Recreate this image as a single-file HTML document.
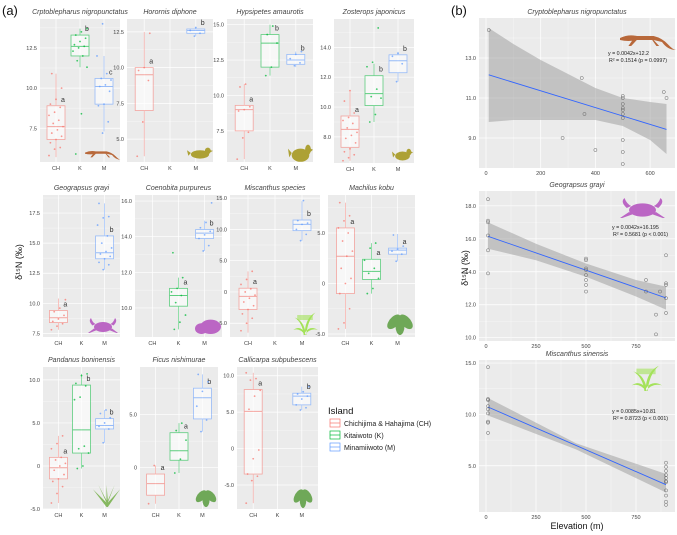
<!DOCTYPE html>
<html><head><meta charset="utf-8"><style>
html,body{margin:0;padding:0;background:#fff;}
svg{display:block;font-family:"Liberation Sans",Arial,sans-serif;}
</style></head><body>
<svg id="fig" width="677" height="535" viewBox="0 0 677 535" xmlns="http://www.w3.org/2000/svg">
<text x="2" y="15" font-size="13" fill="#111">(a)</text>
<text x="451" y="15" font-size="13" fill="#111">(b)</text>
<text transform="translate(22,262) rotate(-90)" font-size="9" text-anchor="middle" fill="#111">δ¹⁵N (‰)</text>
<text transform="translate(468,268) rotate(-90)" font-size="9" text-anchor="middle" fill="#111">δ¹⁵N (‰)</text>
<text x="577" y="529" font-size="9" text-anchor="middle" fill="#111">Elevation (m)</text>
<g>
<text x="328" y="414" font-size="9.5" fill="#111">Island</text>
<g><rect x="330" y="419" width="10" height="8" fill="#fff" stroke="#F8766D" stroke-width="0.7"/><line x1="330" y1="423" x2="340" y2="423" stroke="#F8766D" stroke-width="0.7"/><text x="344" y="426" font-size="7" fill="#222">Chichijima &amp; Hahajima (CH)</text></g>
<g><rect x="330" y="431" width="10" height="8" fill="#fff" stroke="#00BA38" stroke-width="0.7"/><line x1="330" y1="435" x2="340" y2="435" stroke="#00BA38" stroke-width="0.7"/><text x="344" y="438" font-size="7" fill="#222">Kitaiwoto (K)</text></g>
<g><rect x="330" y="443" width="10" height="8" fill="#fff" stroke="#619CFF" stroke-width="0.7"/><line x1="330" y1="447" x2="340" y2="447" stroke="#619CFF" stroke-width="0.7"/><text x="344" y="450" font-size="7" fill="#222">Minamiiwoto (M)</text></g>
</g>
</svg>
<script>
const groups = ["CH","K","M"];
const cryptoBoxes = [[6.8,7.6,8.9,5.7,10.9],[12.0,12.6,13.3,11.3,13.7],[9.0,10.1,10.6,7.3,12.0]];
const cryptoPts = [[5.8,6.2,6.3,6.6,6.8,7.0,7.2,7.4,7.6,7.8,8.0,8.3,8.5,8.8,9.0,9.3,10.0,10.9],[5.9,8.4,11.3,11.7,12.0,12.3,12.5,12.6,12.7,12.9,13.1,13.3,13.5,13.7],[7.2,7.9,8.9,9.0,9.8,10.1,10.2,10.5,10.6,10.9,12.0,14.0]];
const cryptoLetters = ["a","b","c"];
const horornisBoxes = [[7.0,9.5,10.0,3.8,12.5],null,[12.4,12.6,12.7,12.2,12.8]];
const horornisPts = [[3.8,6.2,9.1,9.8,10.0,12.4],[],[12.2,12.4,12.6,12.8]];
const horornisLetters = ["a","","b"];
const hypsiBoxes = [[7.5,9.0,9.3,5.5,10.8],[12.0,13.7,14.3,11.4,15.0],[12.2,12.5,12.9,12.0,13.1]];
const hypsiPts = [[5.5,7.0,7.4,8.9,9.0,9.2,10.6,10.8],[11.4,12.0,13.7,14.3,14.9],[12.1,12.3,12.6,12.9,13.1]];
const hypsiLetters = ["a","b","b"];
const zostBoxes = [[7.3,8.5,9.4,6.4,11.1],[10.1,10.9,12.1,9.0,12.9],[12.3,13.1,13.5,11.7,13.7]];
const zostPts = [[6.4,6.6,6.8,7.0,7.2,7.6,7.9,8.1,8.3,8.6,8.9,9.1,9.3,9.6,10.4,11.1],[9.0,9.5,10.6,10.7,11.2,12.7,13.0,15.3],[11.7,12.9,13.4,13.6]];
const zostLetters = ["a","b","b"];
const geoBoxes = [[8.4,8.8,9.4,7.8,10.4],null,[13.7,14.2,15.6,12.8,18.3]];
const geoPts = [[7.8,8.1,8.3,8.5,8.7,9.0,9.3,9.6,10.3],[],[12.8,13.2,13.4,13.7,13.9,14.1,14.3,14.6,15.0,15.6,16.5,17.1,17.2,18.3]];
const geoLetters = ["a","","b"];
const coenoBoxes = [null,[10.1,10.7,11.1,8.8,11.7],[13.9,14.2,14.4,13.2,14.9]];
const coenoPts = [[],[8.8,9.2,9.6,10.3,10.7,10.9,11.1,11.7,13.1],[13.2,13.5,13.9,14.1,14.3,14.5,14.8,15.9]];
const coenoLetters = ["","a","b"];
const miscBoxes = [[-2.8,-0.7,0.6,-6.5,3.3],null,[9.8,10.8,11.5,8.2,14.5]];
const miscPts = [[-6.2,-5.0,-4.2,-3.5,-2.8,-2.2,-1.6,-1.0,-0.5,0,0.5,1.2,2.0,3.3],[],[8.2,9.2,10.0,10.8,11.0,11.4,14.6]];
const miscLetters = ["a","","b"];
const machBoxes = [[-1.0,2.7,5.5,-4.5,8.0],[0.4,1.2,2.4,-1.0,4.0],[2.9,3.3,3.5,2.2,4.9]];
const machPts = [[-4.5,-3.9,-2.5,-1.0,0,0.5,1.5,2.7,3.2,4.2,5.0,5.5,6.2,6.7,8.0],[-1.0,-0.5,0.5,1.0,1.5,2.3,3.5,4.0],[2.2,2.9,3.2,3.4,3.7,4.8]];
const machLetters = ["a","a","a"];
const pandBoxes = [[-1.5,-0.2,1.0,-4.3,3.5],[1.5,4.2,9.4,-0.3,10.7],[4.3,4.7,5.5,2.7,6.5]];
const pandPts = [[-4.3,-3.2,-2.4,-1.8,-1.5,-1.0,-0.5,0,0.3,0.7,1.0,2.0,2.6,3.5],[-0.3,0,1.5,2.0,2.3,7.7,8.0,9.3,9.6,10.5,10.7],[2.7,4.3,4.6,5.0,5.6,6.1,6.5]];
const pandLetters = ["a","b","b"];
const ficusBoxes = [[-2.6,-1.5,-0.6,-3.4,0.2],[0.7,1.6,3.3,-0.5,4.2],[4.6,6.6,7.5,3.4,8.8]];
const ficusPts = [[-3.4,0.2],[-0.5,0.8,2.6,3.5,4.2],[3.4,4.5,5.8,7.2,8.1,8.8]];
const ficusLetters = ["a","a","b"];
const calliBoxes = [[-3.5,5.1,8.1,-7.5,10.4],null,[6.0,7.2,7.6,5.3,8.5]];
const calliPts = [[-7.5,-4.4,-3.8,-3.5,-1.4,-0.2,5.4,7.2,8.0,9.4,9.6,10.4],[],[5.3,5.6,6.0,6.8,7.2,7.5,7.8,8.5]];
const calliLetters = ["a","","b"];

const cryptoElev = [10,280,350,360,400,500,500,500,500,500,500,500,500,500,500,650,660];
const cryptoN15 = [14.4,9.0,12.0,10.2,8.4,11.1,11.0,10.7,10.5,10.4,10.2,10.0,8.9,8.3,7.7,11.3,11.0];
const cryptoFit = [12.2,-0.0042];
const cryptoBandX = [10,100,200,300,400,500,600,660];
const cryptoBandHi = [14.5,13.7,12.9,12.2,11.5,11.0,10.8,10.7];
const cryptoBandLo = [9.8,9.9,9.9,9.9,9.9,9.6,8.9,8.2];
const geoElev = [10,10,10,10,10,10,500,500,500,500,500,500,500,500,800,800,870,850,850,900,900,900,900,900];
const geoN15 = [18.4,17.1,17.0,16.2,15.3,13.9,14.8,14.7,14.2,14.1,13.8,13.5,13.2,12.8,13.5,12.8,12.8,11.4,10.2,15.0,13.3,13.2,12.4,11.5];
const geoFit = [16.195,-0.0042];
const geoBandX = [10,250,500,750,900];
const geoBandHi = [17.0,15.7,14.5,13.5,13.1];
const geoBandLo = [15.4,14.7,13.7,12.5,11.7];
const miscElev = [10,10,10,10,10,10,10,10,10,900,900,900,900,900,900,900,900,900,900,900];
const miscN15 = [14.6,11.5,11.4,10.8,10.5,10.1,9.3,9.2,8.2,5.3,4.9,4.5,4.1,3.8,3.5,3.4,2.6,2.1,1.5,1.2];
const miscFit = [10.81,-0.0085];
const miscBandX = [10,450,900];
const miscBandHi = [11.6,7.2,4.2];
const miscBandLo = [9.9,6.6,2.4];

const colors = {CH:"#F8766D",K:"#00BA38",M:"#619CFF"};
const NS = "http://www.w3.org/2000/svg";
const svg = document.getElementById('fig');
function el(tag, attrs, parent){ const e=document.createElementNS(NS,tag); for(const k in attrs) e.setAttribute(k,attrs[k]); (parent||svg).appendChild(e); return e; }

function boxPanel(cfg){
  const g = el('g',{});
  
  
  const {x0,x1,y0,y1,vmin,vmax} = cfg;
  const Y = v => y1 - (v - vmin)/(vmax - vmin)*(y1 - y0);
  const X = i => x0 + (x1 - x0)*(0.2 + 0.3*i);
  el('rect',{x:x0,y:y0,width:x1-x0,height:y1-y0,fill:'#EBEBEB'},g);
  const step = cfg.ticks[1]-cfg.ticks[0];
  cfg.ticks.forEach(t=>{
    const m = Y(t+step/2);
    if(m>y0 && m<y1) el('line',{x1:x0,x2:x1,y1:m,y2:m,stroke:'#fff','stroke-width':0.3},g);
    const yy=Y(t);
    el('line',{x1:x0,x2:x1,y1:yy,y2:yy,stroke:'#fff','stroke-width':0.7},g);
    const tl = el('text',{x:x0-3,y:yy+2,'font-size':5.5,'text-anchor':'end',fill:'#444'},g);
    tl.textContent = t===0 ? '0' : t.toFixed(1);
    
    
  });
  groups.forEach((gname,i)=>{
    const xx = X(i);
    el('line',{x1:xx,x2:xx,y1:y0,y2:y1,stroke:'#fff','stroke-width':0.7},g);
    const xl = el('text',{x:xx,y:y1+8,'font-size':5.5,'text-anchor':'middle',fill:'#444'},g);
    xl.textContent = gname;
    
    
  });
  const t = el('text',{x:(x0+x1)/2,y:y0-5,'font-size':7,'font-style':'italic','text-anchor':'middle',fill:'#444'},g);
  t.textContent = cfg.title;
  
  
  const bw = 18;
  groups.forEach((gname,i)=>{
    const b = cfg.boxes[i]; const c = colors[gname]; const xx = X(i);
    if(b){
      const bg = el('g',{opacity:0.6},g);
      
      
      el('line',{x1:xx,x2:xx,y1:Y(b[3]),y2:Y(b[0]),stroke:c,'stroke-width':0.7},bg);
      el('line',{x1:xx,x2:xx,y1:Y(b[2]),y2:Y(b[4]),stroke:c,'stroke-width':0.7},bg);
      el('rect',{x:xx-bw/2,y:Y(b[2]),width:bw,height:Y(b[0])-Y(b[2]),fill:'#fff',stroke:c,'stroke-width':0.8},bg);
      el('line',{x1:xx-bw/2,x2:xx+bw/2,y1:Y(b[1]),y2:Y(b[1]),stroke:c,'stroke-width':1},bg);
      if(cfg.letters[i]){
        const lt = el('text',{x:xx+5,y:Y(b[2])-4,'font-size':7,fill:'#333'},g);
        lt.textContent = cfg.letters[i];
        
        
      }
    }
    cfg.pts[i].forEach((v,k)=>{
      const jx = (((k*37+i*13)%11)-5)*1.4;
      const p = el('circle',{cx:xx+jx,cy:Y(v),r:0.9,fill:c,opacity:0.75},g);
      
      
    });
  });
  return g;
}

boxPanel({name:'panel-cryptoblepharus',title:'Crptoblepharus nigropunctatus',x0:40,x1:120,y0:19,y1:162,vmin:5.4,vmax:14.3,ticks:[7.5,10,12.5],boxes:cryptoBoxes,pts:cryptoPts,letters:cryptoLetters});
boxPanel({name:'panel-horornis',title:'Horornis diphone',x0:127,x1:213,y0:19,y1:162,vmin:3.4,vmax:13.4,ticks:[5,7.5,10,12.5],boxes:horornisBoxes,pts:horornisPts,letters:horornisLetters});
boxPanel({name:'panel-hypsipetes',title:'Hypsipetes amaurotis',x0:227,x1:313,y0:19,y1:162,vmin:5.3,vmax:15.4,ticks:[7.5,10,12.5,15],boxes:hypsiBoxes,pts:hypsiPts,letters:hypsiLetters});
boxPanel({name:'panel-zosterops',title:'Zosterops japonicus',x0:334,x1:414,y0:19,y1:163,vmin:6.25,vmax:15.9,ticks:[8,10,12,14],boxes:zostBoxes,pts:zostPts,letters:zostLetters});
boxPanel({name:'panel-geograpsus',title:'Geograpsus grayi',x0:43,x1:120,y0:195,y1:337,vmin:7.2,vmax:19.0,ticks:[7.5,10,12.5,15,17.5],boxes:geoBoxes,pts:geoPts,letters:geoLetters});
boxPanel({name:'panel-coenobita',title:'Coenobita purpureus',x0:135,x1:222,y0:195,y1:337,vmin:8.37,vmax:16.34,ticks:[10,12,14,16],boxes:coenoBoxes,pts:coenoPts,letters:coenoLetters});
boxPanel({name:'panel-miscanthus',title:'Miscanthus species',x0:230,x1:320,y0:195,y1:337,vmin:-7.2,vmax:15.5,ticks:[-5,0,5,10,15],boxes:miscBoxes,pts:miscPts,letters:miscLetters});
boxPanel({name:'panel-machilus',title:'Machilus kobu',x0:328,x1:415,y0:195,y1:337,vmin:-5.3,vmax:8.76,ticks:[-5,0,5],boxes:machBoxes,pts:machPts,letters:machLetters});
boxPanel({name:'panel-pandanus',title:'Pandanus boninensis',x0:43,x1:120,y0:367,y1:509,vmin:-5,vmax:11.5,ticks:[-5,0,5,10],boxes:pandBoxes,pts:pandPts,letters:pandLetters});
boxPanel({name:'panel-ficus',title:'Ficus nishimurae',x0:140,x1:218,y0:367,y1:509,vmin:-3.9,vmax:9.5,ticks:[0,5],boxes:ficusBoxes,pts:ficusPts,letters:ficusLetters});
boxPanel({name:'panel-callicarpa',title:'Callicarpa subpubescens',x0:237,x1:318,y0:367,y1:509,vmin:-8.3,vmax:11.2,ticks:[-5,0,5,10],boxes:calliBoxes,pts:calliPts,letters:calliLetters});

function regPanel(cfg){
  const g = el('g',{});
  
  
  const {x0,x1,y0,y1,xmin,xmax,vmin,vmax} = cfg;
  const X = v => x0 + (v - xmin)/(xmax - xmin)*(x1 - x0);
  const Y = v => y1 - (v - vmin)/(vmax - vmin)*(y1 - y0);
  el('rect',{x:x0,y:y0,width:x1-x0,height:y1-y0,fill:'#EBEBEB'},g);
  const ys = cfg.yticks[1]-cfg.yticks[0];
  cfg.yticks.forEach(t=>{
    const m=Y(t+ys/2); if(m>y0&&m<y1) el('line',{x1:x0,x2:x1,y1:m,y2:m,stroke:'#fff','stroke-width':0.3},g);
    const yy=Y(t);
    el('line',{x1:x0,x2:x1,y1:yy,y2:yy,stroke:'#fff','stroke-width':0.7},g);
    const tl=el('text',{x:x0-3,y:yy+2,'font-size':5.5,'text-anchor':'end',fill:'#444'},g);
    tl.textContent=t.toFixed(1);
    
    
  });
  const xs = cfg.xticks[1]-cfg.xticks[0];
  cfg.xticks.forEach(t=>{
    const m=X(t+xs/2); if(m>x0&&m<x1) el('line',{x1:m,x2:m,y1:y0,y2:y1,stroke:'#fff','stroke-width':0.3},g);
    const xx=X(t);
    el('line',{x1:xx,x2:xx,y1:y0,y2:y1,stroke:'#fff','stroke-width':0.7},g);
    const tl=el('text',{x:xx,y:y1+7,'font-size':5.5,'text-anchor':'middle',fill:'#444'},g);
    tl.textContent=String(t);
    
    
  });
  const t=el('text',{x:(x0+x1)/2,y:y0-4,'font-size':7,'font-style':'italic','text-anchor':'middle',fill:'#444'},g);
  t.textContent=cfg.title;
  
  
  let d='';
  cfg.bx.forEach((x,i)=>{ d+=(i?'L':'M')+X(x)+','+Y(cfg.bhi[i]); });
  for(let i=cfg.bx.length-1;i>=0;i--) d+='L'+X(cfg.bx[i])+','+Y(cfg.blo[i]);
  const band=el('path',{d:d+'Z',fill:'#999',opacity:0.5},g);
  
  
  const xa=cfg.bx[0], xb=cfg.bx[cfg.bx.length-1];
  const ln=el('line',{x1:X(xa),y1:Y(cfg.fit[0]+cfg.fit[1]*xa),x2:X(xb),y2:Y(cfg.fit[0]+cfg.fit[1]*xb),stroke:'#3366FF','stroke-width':0.9},g);
  
  
  cfg.xs.forEach((x,i)=>{
    const p=el('circle',{cx:X(x),cy:Y(cfg.ys[i]),r:1.6,fill:'none',stroke:'#666','stroke-width':0.5},g);
    
    
  });
  const e1=el('text',{x:cfg.ex,y:cfg.ey,'font-size':5.3,fill:'#222'},g); e1.textContent=cfg.eq1;
  
  
  const e2=el('text',{x:cfg.ex+1,y:cfg.ey+7,'font-size':5.3,fill:'#222'},g); e2.textContent=cfg.eq2;
  
  
}
regPanel({name:'panel-b-cryptoblepharus',title:'Cryptoblepharus nigropunctatus',x0:479,x1:675,y0:18,y1:168,xmin:-25.6,xmax:691,vmin:7.5,vmax:15.0,yticks:[9,11,13],xticks:[0,200,400,600],xs:cryptoElev,ys:cryptoN15,fit:cryptoFit,bx:cryptoBandX,bhi:cryptoBandHi,blo:cryptoBandLo,ex:608,ey:55,eq1:'y = 0.0042x+12.2',eq2:'R² = 0.1514 (p = 0.0997)'});
regPanel({name:'panel-b-geograpsus',title:'Geograpsus grayi',x0:479,x1:675,y0:191,y1:341,xmin:-35,xmax:945,vmin:9.8,vmax:18.9,yticks:[10,12,14,16,18],xticks:[0,250,500,750],xs:geoElev,ys:geoN15,fit:geoFit,bx:geoBandX,bhi:geoBandHi,blo:geoBandLo,ex:612,ey:229,eq1:'y = 0.0042x+16.195',eq2:'R² = 0.5681 (p < 0.001)'});
regPanel({name:'panel-b-miscanthus',title:'Miscanthus sinensis',x0:479,x1:675,y0:360,y1:512,xmin:-35,xmax:945,vmin:0.5,vmax:15.3,yticks:[5,10,15],xticks:[0,250,500,750],xs:miscElev,ys:miscN15,fit:miscFit,bx:miscBandX,bhi:miscBandHi,blo:miscBandLo,ex:612,ey:413,eq1:'y = 0.0085x+10.81',eq2:'R² = 0.8723 (p < 0.001)'});

function sil(name,color,x,y,w,h,kind){
  const g=el('g',{fill:color,transform:'translate('+x+','+y+') scale('+w/20+','+h/10+')'});
  
  
  if(kind==='lizard'){ el('path',{d:'M0,3 Q3,1 6,2 L12,2 Q15,3 17,6 Q19,9 20,9 Q17,9 15,5 L12,4 L6,4 Q3,5 0,4Z'},g); el('path',{d:'M5,3 L3,7 L4,7 L6,4Z M11,3 L13,7 L14,7 L12,4Z'},g);}
  else if(kind==='bird'){ el('ellipse',{cx:10,cy:6,rx:7,ry:3},g); el('circle',{cx:16,cy:3.5,r:2.3},g); el('path',{d:'M3,5 L0,3 L1,7Z M18,3 L20,3.5 L18,4.5Z'},g);}
  else if(kind==='crab'){ el('ellipse',{cx:10,cy:6,rx:6,ry:3.3},g); el('path',{d:'M3,5 Q0,2 2,0 Q3,3 5,4Z M17,5 Q20,2 18,0 Q17,3 15,4Z M4,7 L0,10 L1,10 L6,8Z M16,7 L20,10 L19,10 L14,8Z'},g);}
  else if(kind==='hermit'){ el('ellipse',{cx:12,cy:6,rx:8,ry:4},g); el('ellipse',{cx:5,cy:7,rx:5,ry:3},g);}
  else if(kind==='grass'){ el('path',{d:'M9,10 Q8,5 2,3 Q8,4 10,8 Q11,3 18,1 Q12,4 11,10Z M10,10 Q6,7 1,8 Q6,6 10,9Z M10,10 Q14,7 20,8 Q14,6 10,9Z'},g); el('rect',{x:4,y:2,width:12,height:2,opacity:0.6},g);}
  else if(kind==='leaf'){ el('ellipse',{cx:6,cy:4,rx:5,ry:2.5,transform:'rotate(-30 6 4)'},g); el('ellipse',{cx:14,cy:4,rx:5,ry:2.5,transform:'rotate(30 14 4)'},g); el('ellipse',{cx:10,cy:6,rx:3,ry:4},g); el('rect',{x:9.5,y:7,width:1,height:3},g);}
  else if(kind==='pandanus'){ el('path',{d:'M10,10 L0,2 L10,8 L4,0 L10,7 L10,0 L11,7 L16,0 L11,8 L20,2 L11,10Z'},g);}
}
sil('lizard-icon','#B8683A',85,149,36,12,'lizard');
sil('bird-icon-horornis','#ADA135',187,146,26,14,'bird');
sil('bird-icon-hypsipetes','#ADA135',288,142,25,22,'bird');
sil('bird-icon-zosterops','#ADA135',392,147,21,15,'bird');
sil('crab-icon','#BB66C4',88,318,30,15,'crab');
sil('hermit-crab-icon','#BB66C4',195,316,26,18,'hermit');
sil('grass-icon','#A4E25A',292,310,26,25,'grass');
sil('leaf-icon-machilus','#6FA858',385,313,30,22,'leaf');
sil('pandanus-icon','#86B860',93,485,27,22,'pandanus');
sil('leaf-icon-ficus','#6FA858',194,489,24,18,'leaf');
sil('leaf-icon-callicarpa','#6FA858',292,488,22,20,'leaf');
sil('lizard-icon-b','#B8683A',620,32,56,20,'lizard');
sil('crab-icon-b','#BB66C4',620,198,45,20,'crab');
sil('grass-icon-b','#A4E25A',630,363,32,28,'grass');
</script>
</body></html>
